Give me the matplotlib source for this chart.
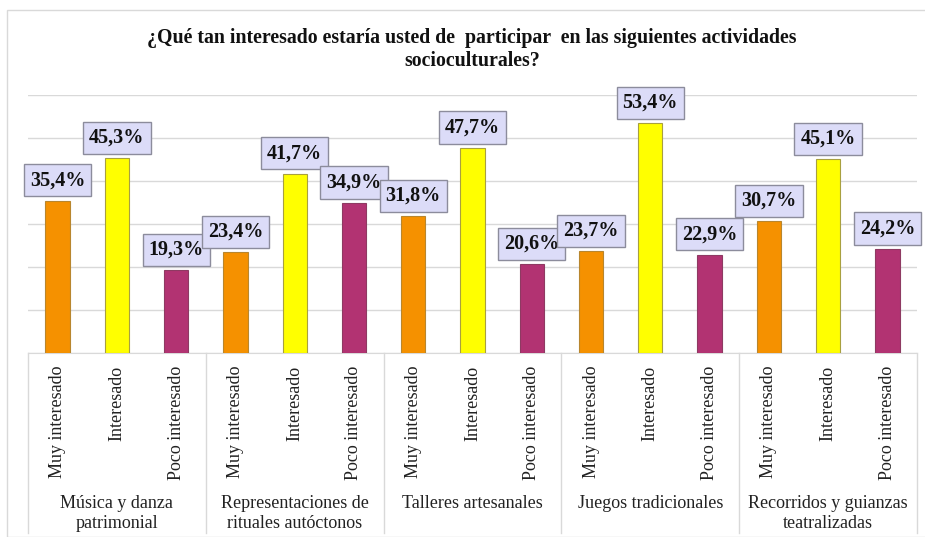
import matplotlib
matplotlib.use("Agg")
import matplotlib.pyplot as plt
from matplotlib.patches import Rectangle

title = "¿Qué tan interesado estaría usted de  participar  en las siguientes actividades\nsocioculturales?"
groups = ["Música y danza\npatrimonial", "Representaciones de\nrituales autóctonos",
          "Talleres artesanales", "Juegos tradicionales", "Recorridos y guianzas\nteatralizadas"]
levels = ["Muy interesado", "Interesado", "Poco interesado"]
muy = [35.4, 23.4, 31.8, 23.7, 30.7]
inter = [45.3, 41.7, 47.7, 53.4, 45.1]
poco = [19.3, 34.9, 20.6, 22.9, 24.2]
colors = ["#F59100", "#FFFF00", "#B23372"]
edges = ["#B8862E", "#A8A040", "#8E3A62"]

plt.rcParams['font.family'] = ['Liberation Serif', 'DejaVu Serif']

fig = plt.figure(figsize=(9.25, 5.37), dpi=100)
W, H = 925, 537
fig.patches.append(Rectangle((7 / W, 0), 1.0, 1 - 10 / H, transform=fig.transFigure,
                             fill=False, edgecolor="#D9D9D9", lw=1.0))

ax = fig.add_axes([28 / W, 1 - 353 / H, (917 - 28) / W, (353 - 95) / H])

series = [muy, inter, poco]
xs, vals, cols, ecs, labels = [], [], [], [], []
for g in range(len(groups)):
    for s in range(3):
        xs.append(g * 3 + s)
        vals.append(series[s][g])
        cols.append(colors[s])
        ecs.append(edges[s])
        labels.append(levels[s])

ax.bar(xs, vals, width=0.41, color=cols, edgecolor=ecs, linewidth=0.8, zorder=3)
ax.set_xlim(-0.5, len(xs) - 0.5)
ax.set_ylim(0, 60)
ax.set_yticks(range(0, 61, 10))
ax.yaxis.grid(True, color="#D9D9D9", lw=1.0, zorder=0)
ax.tick_params(axis='y', left=False, labelleft=False)
for sp in ["top", "right", "left"]:
    ax.spines[sp].set_visible(False)
ax.spines["bottom"].set_color("#D9D9D9")

ax.set_xticks(xs)
ax.set_xticklabels(labels, rotation=90, va='top', ha='center', fontsize=13, color="#222222")
ax.tick_params(axis='x', length=0, pad=9)

for x, v in zip(xs, vals):
    ax.annotate(f"{v:.1f}%".replace(".", ","), xy=(x, v), xytext=(0, 7.5), textcoords="offset points",
                ha='center', va='bottom', fontsize=14.5, fontweight='bold', color="#111111", zorder=5,
                bbox=dict(boxstyle="square,pad=0.3", fc="#DCDCF8", ec="#8C8C9C", lw=1.0))

axh = 353 - 95
for k in range(len(groups) + 1):
    ax.plot([k * 3 - 0.5, k * 3 - 0.5], [0, -(533 - 353) / axh], transform=ax.get_xaxis_transform(),
            color="#D9D9D9", lw=1.0, clip_on=False)

for g, name in enumerate(groups):
    ax.text(g * 3 + 1, -(495 - 353) / axh, name, transform=ax.get_xaxis_transform(),
            ha='center', va='top', fontsize=13, color="#222222", linespacing=1.25)

fig.text(472 / W, 1 - 28 / H, title, ha='center', va='top', fontsize=14.3, fontweight='bold',
         color="#111111", linespacing=1.2)

fig.savefig("out.png", dpi=100)
